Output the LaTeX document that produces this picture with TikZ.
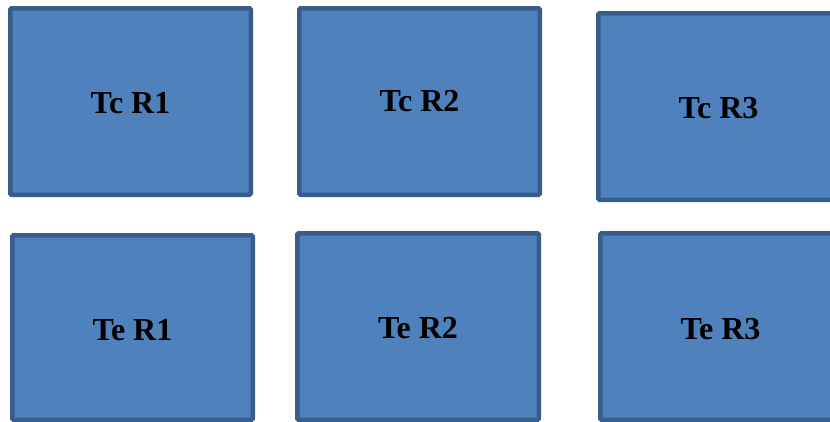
\documentclass[tikz,border=0pt]{standalone}
\usepackage{fontspec}
\setmainfont{Liberation Serif}
\begin{document}
\begin{tikzpicture}[x=1pt,y=-1pt,
  box/.style={draw=boxline, fill=boxfill, line width=4.5pt, rounded corners=1.2pt,
    inner sep=0pt, minimum width=240.5pt, minimum height=186.5pt},
  lab/.style={font=\fontsize{32}{32}\selectfont\bfseries, text=black, inner sep=0pt},
]
\definecolor{boxfill}{HTML}{4F81BD}
\definecolor{boxline}{HTML}{385D8A}
\useasboundingbox (0,0) rectangle (830,421);
\clip (0,0) rectangle (830,421);
\node[box, label={[lab, yshift=-1.5pt]center:Tc R1}] (tc1) at (130.5,101.5) {};
\node[box, label={[lab, yshift=0pt]center:Tc R2}] (tc2) at (419.5,101.5) {};
\node[box, label={[lab, yshift=-1.5pt]center:Tc R3}] (tc3) at (718.5,106.5) {};
\node[box, minimum height=184.5pt, label={[lab, yshift=-2.5pt]center:Te R1}] (te1) at (132.5,327.5) {};
\node[box, minimum width=241.5pt, label={[lab, yshift=-1.5pt]center:Te R2}] (te2) at (418,326.5) {};
\node[box, label={[lab, yshift=-3pt]center:Te R3}] (te3) at (720.5,326.5) {};
\end{tikzpicture}
\end{document}
